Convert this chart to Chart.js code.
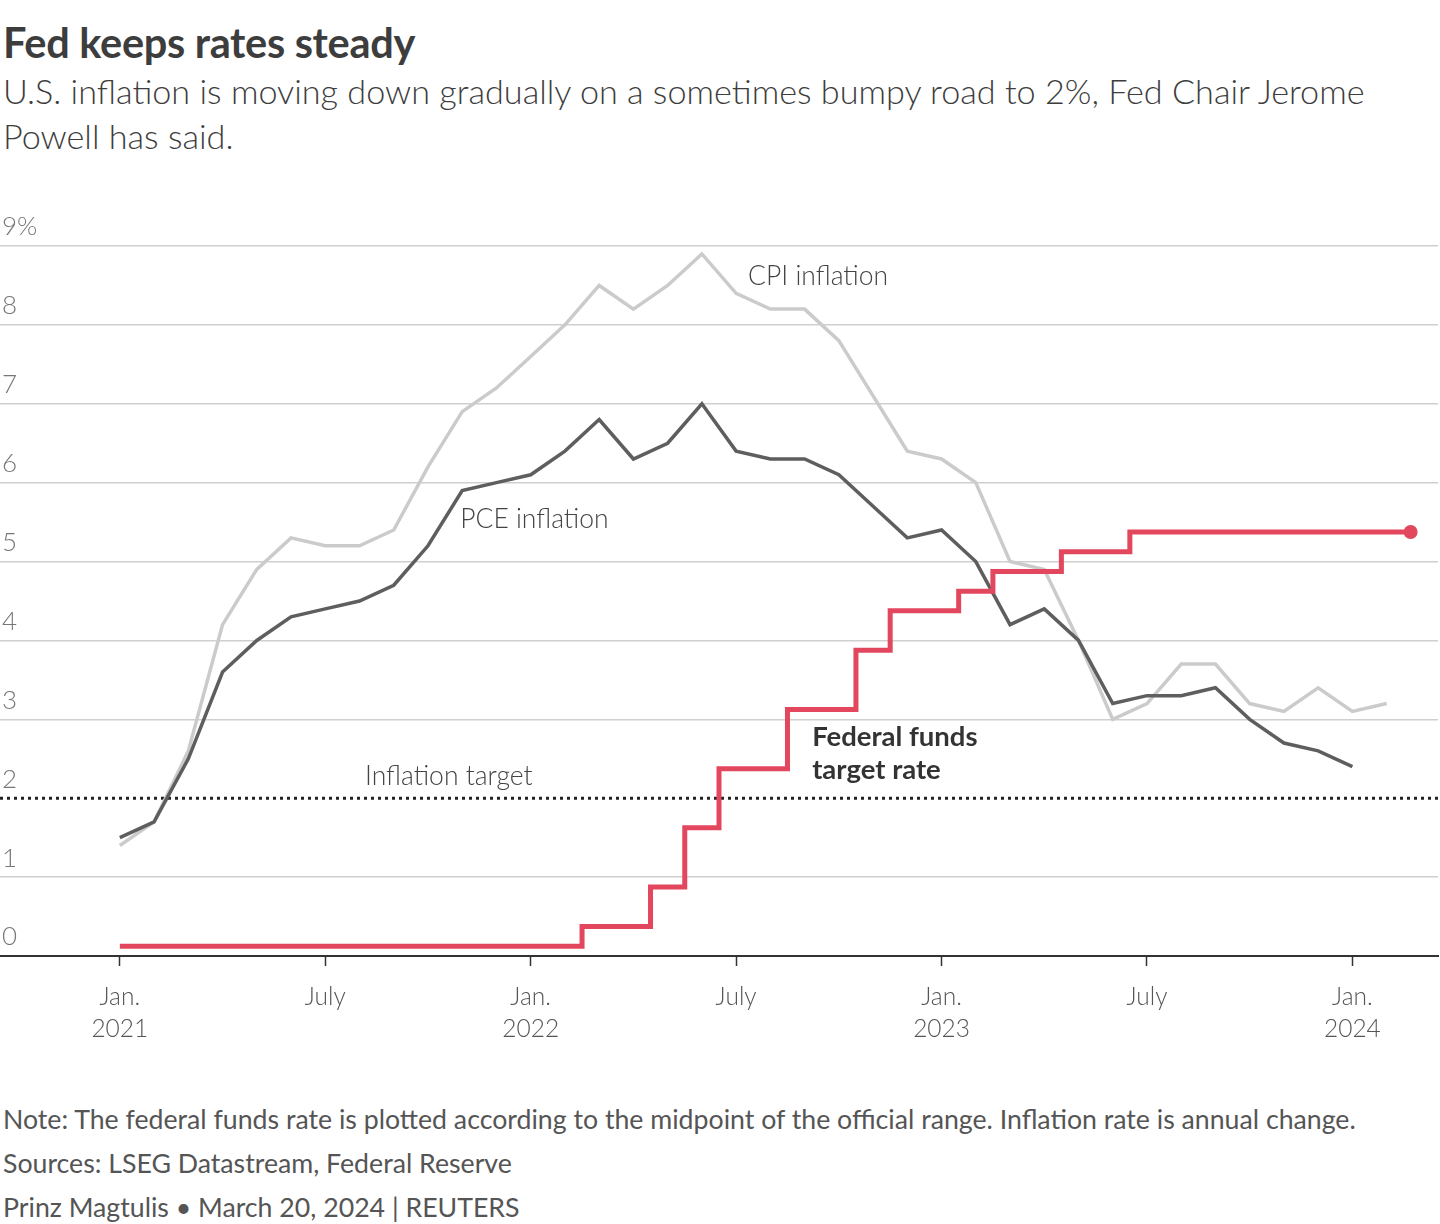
<!DOCTYPE html>
<html>
<head>
<meta charset="utf-8">
<script src="https://cdn.jsdelivr.net/npm/chart.js@4.4.1/dist/chart.umd.min.js"></script>
<style>
  html, body { margin:0; padding:0; background:#fff; }
  body { width:1440px; height:1224px; position:relative; overflow:hidden; font-family: Lato, "Noto Sans", sans-serif; }
  #title { position:absolute; left:3px; top:17px; font-size:41.5px; font-weight:700; color:#3d3d3d; letter-spacing:-0.3px; white-space:nowrap; }
  #subtitle { position:absolute; left:3px; top:68px; font-size:34.2px; line-height:45px; font-weight:300; color:#3d3d3d; white-space:nowrap; }
  #chartbox { position:absolute; left:0; top:200px; width:1440px; height:860px; }
  #notes { position:absolute; left:3px; top:1097px; font-size:26.7px; line-height:44px; color:#555; white-space:nowrap; }
</style>
</head>
<body>
<div id="title">Fed keeps rates steady</div>
<div id="subtitle">U.S. inflation is moving down gradually on a sometimes bumpy road to 2%, Fed Chair Jerome<br>Powell has said.</div>
<div id="chartbox"><canvas id="c"></canvas></div>
<div id="notes">Note: The federal funds rate is plotted according to the midpoint of the official range. Inflation rate is annual change.<br>Sources: LSEG Datastream, Federal Reserve<br>Prinz Magtulis • March 20, 2024 | REUTERS</div>
<script>
// Month index 0 = Jan. 2021
const cpiValues = [1.4,1.7,2.6,4.2,4.9,5.3,5.2,5.2,5.4,6.2,6.9,7.2,
                   7.6,8.0,8.5,8.2,8.5,8.9,8.4,8.2,8.2,7.8,7.1,6.4,
                   6.3,6.0,5.0,4.9,4.0,3.0,3.2,3.7,3.7,3.2,3.1,3.4,
                   3.1,3.2];
const pceValues = [1.5,1.7,2.5,3.6,4.0,4.3,4.4,4.5,4.7,5.2,5.9,6.0,
                   6.1,6.4,6.8,6.3,6.5,7.0,6.4,6.3,6.3,6.1,5.7,5.3,
                   5.4,5.0,4.2,4.4,4.0,3.2,3.3,3.3,3.4,3.0,2.7,2.6,
                   2.4];
// Fed funds target midpoint: month positions where the rate changes, and the new rate
const fedMonths = [0, 13.5, 15.5, 16.5, 17.5, 19.5, 21.5, 22.5, 24.5, 25.5, 27.5, 29.5, 37.7];
const fedRates  = [0.125, 0.375, 0.875, 1.625, 2.375, 3.125, 3.875, 4.375, 4.625, 4.875, 5.125, 5.375, 5.375];
const inflationTarget = 2;
const xTickMonths = [0, 6, 12, 18, 24, 30, 36];
const xTickLabels = [['Jan.','2021'],['July'],['Jan.','2022'],['July'],['Jan.','2023'],['July'],['Jan.','2024']];
const yTicks = [0,1,2,3,4,5,6,7,8,9];

const X_MIN = -3.5, X_MAX = 38.5;

const toPts = (arr) => arr.map((v, i) => ({x: i, y: v}));
const fedPts = fedMonths.map((m, i) => ({x: m, y: fedRates[i]}));

const annotations = {
  id: 'annotations',
  afterDatasetsDraw(chart) {
    const {ctx, scales:{x, y}} = chart;
    ctx.save();
    ctx.textBaseline = 'middle';
    ctx.textAlign = 'left';
    ctx.fillStyle = '#444';
    ctx.font = '300 26.5px Lato, "Noto Sans", sans-serif';
    ctx.fillText('CPI inflation', x.getPixelForValue(18.35), y.getPixelForValue(8.62));
    ctx.fillText('PCE inflation', x.getPixelForValue(9.94), y.getPixelForValue(5.53));
    ctx.fillText('Inflation target', x.getPixelForValue(7.16), y.getPixelForValue(2.28));
    ctx.fillStyle = '#333';
    ctx.font = '700 27.5px Lato, "Noto Sans", sans-serif';
    ctx.fillText('Federal funds', x.getPixelForValue(20.22), y.getPixelForValue(2.78));
    ctx.fillText('target rate', x.getPixelForValue(20.22), y.getPixelForValue(2.36));
    ctx.restore();
  }
};

new Chart(document.getElementById('c'), {
  type: 'line',
  data: {
    datasets: [
      { label: 'Inflation target', data: [{x: X_MIN, y: inflationTarget}, {x: X_MAX, y: inflationTarget}],
        borderColor: '#222', borderWidth: 3, borderDash: [3, 4], pointRadius: 0, order: 4 },
      { label: 'CPI inflation', data: toPts(cpiValues), borderColor: '#cbcbcb', borderWidth: 3.5,
        pointRadius: 0, tension: 0, order: 3 },
      { label: 'PCE inflation', data: toPts(pceValues), borderColor: '#5e5e5e', borderWidth: 3.5,
        pointRadius: 0, tension: 0, order: 2 },
      { label: 'Federal funds target rate', data: fedPts, borderColor: '#e2475d', borderWidth: 5,
        stepped: true, borderJoinStyle: 'miter',
        pointRadius: (c) => c.dataIndex === fedPts.length - 1 ? 7 : 0,
        pointBackgroundColor: '#e2475d', pointBorderWidth: 0, order: 1 }
    ]
  },
  options: {
    responsive: true,
    maintainAspectRatio: false,
    animation: false,
    devicePixelRatio: 1,
    layout: { autoPadding: false, padding: { top: 46, right: 2, left: 0, bottom: 0 } },
    plugins: { legend: { display: false }, tooltip: { enabled: false } },
    scales: {
      x: {
        type: 'linear', min: X_MIN, max: X_MAX,
        afterBuildTicks: (s) => { s.ticks = xTickMonths.map(v => ({value: v})); },
        afterFit: (s) => { s.height = 104; },
        grid: { drawOnChartArea: false, drawTicks: true, tickLength: 10, tickColor: '#333', tickWidth: 1.5 },
        border: { display: true, color: '#333', width: 2 },
        ticks: {
          autoSkip: false, maxRotation: 0, padding: 15, color: '#555',
          font: { family: 'Lato, "Noto Sans", sans-serif', size: 24.5, weight: 300, lineHeight: 1.31 },
          callback: (v) => { const i = xTickMonths.indexOf(v); return i >= 0 ? xTickLabels[i] : ''; }
        }
      },
      y: {
        min: 0, max: 9,
        afterBuildTicks: (s) => { s.ticks = yTicks.map(v => ({value: v})); },
        afterFit: (s) => { s.width = 0; },
        border: { display: false },
        grid: {
          drawTicks: false,
          color: (c) => (c.tick && (c.tick.value === 0 || c.tick.value === inflationTarget)) ? 'rgba(0,0,0,0)' : '#cfcfcf',
          lineWidth: 1.5
        },
        ticks: {
          mirror: true, padding: 2, labelOffset: -19, color: '#777',
          font: { family: 'Lato, "Noto Sans", sans-serif', size: 26, weight: 300 },
          callback: (v) => v === 9 ? '9%' : String(v)
        }
      }
    }
  },
  plugins: [annotations]
});
</script>
</body>
</html>
